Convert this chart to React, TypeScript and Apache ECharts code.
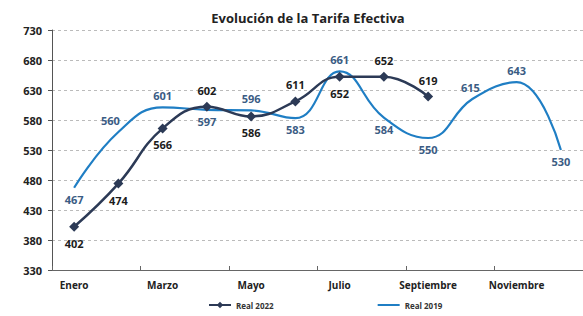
import React, { useEffect, useRef } from "react";
import * as echarts from "echarts";

const months = ["Enero","Febrero","Marzo","Abril","Mayo","Junio","Julio","Agosto","Septiembre","Octubre","Noviembre","Diciembre"];
const real2022 = [402, 474, 566, 602, 586, 611, 652, 652, 619];
const real2019 = [467, 560, 601, 597, 596, 583, 661, 584, 550, 615, 643, 530];
const yTicks = [330, 380, 430, 480, 530, 580, 630, 680, 730];

const pos2022 = ["bottom","bottom","bottom","top","bottom","top","bottom","top","top"];
const pos2019 = ["bottom","top","top","bottom","top","bottom","top","bottom","bottom","top","top","bottom"];
const off2019: number[][] = [[0,0],[-8,0],[0,0],[0,0],[0,0],[0,0],[0,0],[0,0],[0,0],[-2,0],[0,0],[0,0]];

export default function App() {
  const ref = useRef<HTMLDivElement>(null);
  useEffect(() => {
    const chart = echarts.init(ref.current!, null, { renderer: "svg" });
    const font = "Open Sans";
    chart.setOption({
      animation: false,
      textStyle: { fontFamily: font },
      title: {
        text: "Evolución de la Tarifa Efectiva",
        left: 303, top: 6, textAlign: "center",
        textStyle: { fontSize: 13, fontWeight: "bold", color: "#222", fontFamily: font },
      },
      legend: {
        bottom: 2, left: 203, itemGap: 103, itemWidth: 22, itemHeight: 8,
        textStyle: { fontSize: 8, fontWeight: "bold", color: "#333", fontFamily: font },
        data: ["Real 2022", { name: "Real 2019", itemStyle: { opacity: 0 } }],
      },
      grid: { left: 52, right: -8, top: 30, bottom: 46 },
      xAxis: {
        type: "category",
        data: months,
        boundaryGap: true,
        axisLine: { lineStyle: { color: "#666" } },
        axisTick: { show: true, inside: true, length: 4, lineStyle: { color: "#666" } },
        axisLabel: { interval: 1, fontSize: 10, fontWeight: "bold", color: "#222", margin: 10 },
      },
      yAxis: {
        type: "value",
        min: yTicks[0], max: yTicks[yTicks.length - 1], interval: 50,
        axisLine: { show: true, lineStyle: { color: "#555" } },
        axisTick: { show: true, length: 4, lineStyle: { color: "#555" } },
        axisLabel: { fontSize: 11, fontWeight: "bold", color: "#222", margin: 10 },
        splitLine: { lineStyle: { type: [3, 3], color: "#bbb" } },
      },
      series: [
        {
          name: "Real 2019",
          type: "line",
          smooth: 0.45,
          symbol: "circle",
          symbolSize: 0,
          showSymbol: true,
          z: 2,
          lineStyle: { color: "#1f7ec4", width: 2.2 },
          itemStyle: { color: "#1f7ec4" },
          data: real2019.map((v, i) => ({
            value: v,
            label: { show: true, position: pos2019[i], offset: off2019[i] },
          })),
          label: { show: true, fontSize: 11, fontWeight: "bold", color: "#3b5c84", distance: 6 },
        },
        {
          name: "Real 2022",
          type: "line",
          smooth: 0.45,
          symbol: "diamond",
          symbolSize: 10,
          z: 3,
          lineStyle: { color: "#2c3a56", width: 2.5 },
          itemStyle: { color: "#2c3a56" },
          data: real2022.map((v, i) => ({
            value: v,
            label: { show: true, position: pos2022[i] },
          })),
          label: { fontSize: 11, fontWeight: "bold", color: "#1c1c1c", distance: 6 },
        },
      ],
    });
    return () => chart.dispose();
  }, []);
  return <div ref={ref} style={{ width: 583, height: 316, position: "absolute", left: 0, top: 0 }} />;
}
